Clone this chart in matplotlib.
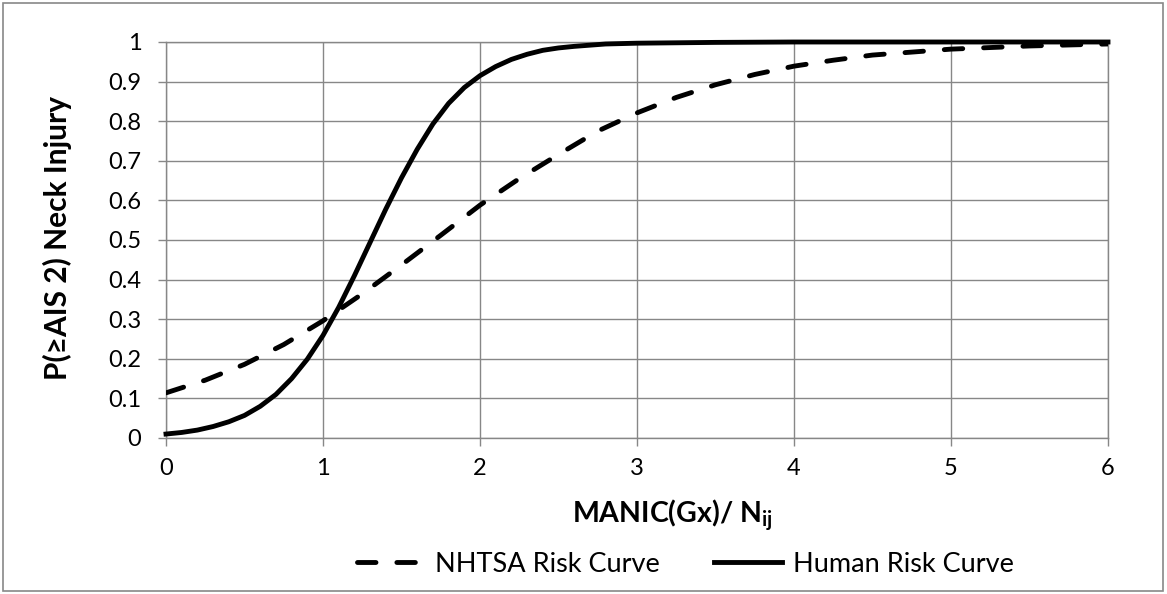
import matplotlib.pyplot as plt
from matplotlib.patches import Rectangle

plt.rcParams['font.family'] = ['Lato', 'DejaVu Sans']
plt.rcParams['mathtext.fontset'] = 'custom'
plt.rcParams['mathtext.bf'] = 'Lato:bold'
plt.rcParams['mathtext.rm'] = 'Lato'

# NHTSA risk curve
nhtsa_x = [0, 0.25, 0.5, 0.75, 1.0, 1.25, 1.5, 1.75, 2.0, 2.25, 2.5, 2.75,
           3.0, 3.25, 3.5, 3.75, 4.0, 4.25, 4.5, 5.0, 5.5, 6.0]
nhtsa_y = [0.114, 0.146, 0.186, 0.236, 0.296, 0.364, 0.437, 0.512, 0.588,
           0.655, 0.716, 0.775, 0.821, 0.860, 0.892, 0.918, 0.939, 0.954,
           0.967, 0.982, 0.990, 0.995]

# Human risk curve
human_x = [0, 0.1, 0.2, 0.3, 0.4, 0.5, 0.6, 0.7, 0.8, 0.9, 1.0, 1.1, 1.2,
           1.3, 1.4, 1.5, 1.6, 1.7, 1.8, 1.9, 2.0, 2.1, 2.2, 2.3, 2.4, 2.5,
           2.6, 2.7, 2.8, 2.9, 3.0, 3.5, 4.0, 5.0, 6.0]
human_y = [0.010, 0.014, 0.020, 0.029, 0.041, 0.057, 0.080, 0.110, 0.150,
           0.199, 0.259, 0.330, 0.410, 0.494, 0.578, 0.657, 0.729, 0.793,
           0.845, 0.885, 0.915, 0.938, 0.956, 0.969, 0.979, 0.985, 0.989,
           0.992, 0.995, 0.996, 0.997, 0.999, 1.0, 1.0, 1.0]

x_ticks = [0, 1, 2, 3, 4, 5, 6]
y_ticks = [0, 0.1, 0.2, 0.3, 0.4, 0.5, 0.6, 0.7, 0.8, 0.9, 1]
y_labels = ['0', '0.1', '0.2', '0.3', '0.4', '0.5', '0.6', '0.7', '0.8', '0.9', '1']

grid_col = '#878787'

fig = plt.figure(figsize=(11.67, 5.94), dpi=100)
ax = fig.add_axes([166 / 1167, 1 - 438 / 594, 942 / 1167, 396 / 594])

ax.plot(nhtsa_x, nhtsa_y, color='black', lw=3.5, dashes=(3.8, 4.3),
        dash_capstyle='round', label='NHTSA Risk Curve', zorder=3)
ax.plot(human_x, human_y, color='black', lw=3.5, label='Human Risk Curve',
        zorder=4, clip_on=False)

ax.set_xlim(0, 6)
ax.set_ylim(0, 1)
ax.set_xticks(x_ticks)
ax.set_yticks(y_ticks)
ax.set_yticklabels(y_labels)
ax.grid(True, color=grid_col, lw=1.0)
ax.set_axisbelow(True)
for s in ax.spines.values():
    s.set_color(grid_col)
    s.set_linewidth(1.0)
ax.tick_params(axis='both', colors=grid_col, labelcolor='black',
               length=5.8, width=1.0, labelsize=17)
ax.tick_params(axis='y', pad=12)
ax.tick_params(axis='x', pad=8.5)

fig.text(57 / 1167, 1 - 238 / 594, 'P(≥AIS 2) Neck Injury', rotation=90,
         ha='center', va='center', fontsize=21.5, fontweight='bold')
fig.text(672 / 1167, 1 - 523 / 594, r'MANIC(Gx)/ N$_{\mathbf{ij}}$',
         ha='center', va='baseline', fontsize=20.5, fontweight='bold')

fig.legend(loc='center', bbox_to_anchor=(685 / 1167, 1 - 564 / 594), ncol=2,
           frameon=False, fontsize=19.5, handlelength=2.5, handletextpad=0.4,
           columnspacing=2.0)

fig.patches.append(Rectangle((3 / 1167, 3 / 594), 1160 / 1167, 588 / 594,
                             transform=fig.transFigure, fill=False,
                             edgecolor='#888888', lw=1.2))

fig.savefig('out.png', dpi=100, facecolor='white')
